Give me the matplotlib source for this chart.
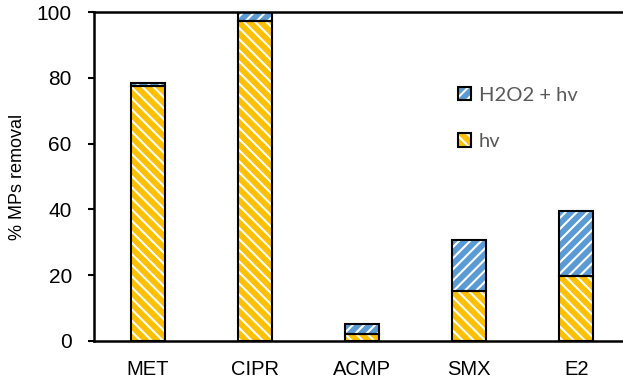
import matplotlib
matplotlib.use("Agg")
import matplotlib.pyplot as plt
from matplotlib.patches import Patch

compounds = ["MET", "CIPR", "ACMP", "SMX", "E2"]
hv = [77.5, 97.4, 2.1, 15.2, 19.8]
h2o2_extra = [0.8, 2.6, 3.1, 15.5, 19.7]

yellow = "#FFC000"
blue = "#5B9BD5"

plt.rcParams["hatch.color"] = "white"
plt.rcParams["hatch.linewidth"] = 1.5
plt.rcParams["font.family"] = ["Liberation Sans", "DejaVu Sans"]

fig = plt.figure(figsize=(6.23, 3.85), dpi=100)
ax = fig.add_axes([0.1509, 0.1143, 0.8491, 0.8545])

x = list(range(len(compounds)))
w = 0.318

# hatched fills (edgecolor left unset so the hatch stays white)
ax.bar(x, hv, w, color=yellow, linewidth=0, hatch="\\\\\\")
ax.bar(x, h2o2_extra, w, bottom=hv, color=blue, linewidth=0, hatch="///")
# black outlines on top
ax.bar(x, hv, w, fill=False, edgecolor="black", linewidth=1.5)
ax.bar(x, h2o2_extra, w, bottom=hv, fill=False, edgecolor="black", linewidth=1.5)

ax.set_xlim(-0.5, 4.435)
ax.set_ylim(0, 100)
ax.set_yticks([0, 20, 40, 60, 80, 100])
ax.set_xticks(x)
ax.set_xticklabels(compounds)
ax.tick_params(axis="x", length=0, pad=14, labelsize=14.5)
ax.tick_params(axis="y", length=4, width=1.5, pad=12, labelsize=15, direction="out")

for side in ["left", "bottom", "top"]:
    ax.spines[side].set_linewidth(1.8)
    ax.spines[side].set_color("black")
ax.spines["right"].set_visible(False)

ax.set_ylabel("% MPs removal", fontsize=13, labelpad=8)

h_blue = (Patch(facecolor=blue, hatch="///", linewidth=0),
          Patch(fill=False, edgecolor="black", linewidth=1.5))
h_yel = (Patch(facecolor=yellow, hatch="\\\\\\", linewidth=0),
         Patch(fill=False, edgecolor="black", linewidth=1.5))
leg = ax.legend([h_blue, h_yel], ["H2O2 + hv", "hv"], frameon=False,
                loc="upper left", bbox_to_anchor=(0.706, 0.822), bbox_transform=fig.transFigure,
                handlelength=0.65, handleheight=0.65, handletextpad=0.4,
                labelspacing=1.45, prop={"family": "Lato", "size": 14.5})
for t in leg.get_texts():
    t.set_color("#595959")

fig.savefig("out.png", dpi=100)
